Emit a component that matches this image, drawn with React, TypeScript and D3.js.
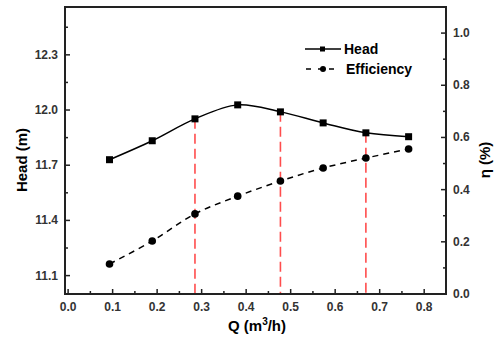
import { useEffect, useRef } from "react";
import * as d3 from "d3";

const flow = [0.093, 0.189, 0.285, 0.381, 0.477, 0.573, 0.669, 0.765];
const head = [11.73, 11.833, 11.952, 12.028, 11.99, 11.93, 11.876, 11.855];
const efficiency = [0.115, 0.203, 0.307, 0.375, 0.433, 0.483, 0.521, 0.556];
const markerFlows = [0.285, 0.477, 0.669];
const xTicks = [0, 0.1, 0.2, 0.3, 0.4, 0.5, 0.6, 0.7, 0.8];
const headTicks = [11.1, 11.4, 11.7, 12.0, 12.3];
const effTicks = [0, 0.2, 0.4, 0.6, 0.8, 1.0];

const FONT = "'Liberation Sans', Arial, sans-serif";

const App = () => {
  const ref = useRef<SVGSVGElement | null>(null);

  useEffect(() => {
    const el = ref.current;
    if (!el) return;
    d3.select(el).selectAll("*").remove();
    const svg = d3.select(el);

    const left = 65, right = 446, top = 7, bottom = 294;

    const x = d3.scaleLinear().domain([-0.007, 0.849]).range([left, right]);
    const yH = d3.scaleLinear().domain([11.0, 12.56]).range([bottom, top]);
    const yE = d3.scaleLinear().domain([0, 1.1]).range([bottom, top]);

    // ── Red guide lines ──────────────────────────────────────────
    markerFlows.forEach(q => {
      const i = flow.indexOf(q);
      svg.append("line")
        .attr("x1", x(q)).attr("x2", x(q))
        .attr("y1", yH(head[i])).attr("y2", bottom)
        .attr("stroke", "#ff4d4d")
        .attr("stroke-width", 1.6)
        .attr("stroke-dasharray", "10,5");
    });

    // ── Curves ───────────────────────────────────────────────────
    const pts = flow.map((q, i) => ({ q, h: head[i], e: efficiency[i] }));

    const headLine = d3.line<any>().x(d => x(d.q)).y(d => yH(d.h)).curve(d3.curveCatmullRom.alpha(0.5));
    svg.append("path").datum(pts)
      .attr("d", headLine)
      .attr("fill", "none").attr("stroke", "#000").attr("stroke-width", 1.5);

    const effLine = d3.line<any>().x(d => x(d.q)).y(d => yE(d.e)).curve(d3.curveCatmullRom.alpha(0.5));
    svg.append("path").datum(pts)
      .attr("d", effLine)
      .attr("fill", "none").attr("stroke", "#000").attr("stroke-width", 1.5)
      .attr("stroke-dasharray", "6,5");

    svg.selectAll(".sq").data(pts).enter().append("rect")
      .attr("x", d => x(d.q) - 3.5).attr("y", d => yH(d.h) - 3.5)
      .attr("width", 7).attr("height", 7).attr("fill", "#000");

    svg.selectAll(".dot").data(pts).enter().append("circle")
      .attr("cx", d => x(d.q)).attr("cy", d => yE(d.e))
      .attr("r", 3.8).attr("fill", "#000");

    // ── Frame ────────────────────────────────────────────────────
    svg.append("rect")
      .attr("x", left).attr("y", top)
      .attr("width", right - left).attr("height", bottom - top)
      .attr("fill", "none").attr("stroke", "#222").attr("stroke-width", 2);

    // ── Ticks (inward) ───────────────────────────────────────────
    const tick = (x1: number, y1: number, x2: number, y2: number) =>
      svg.append("line").attr("x1", x1).attr("y1", y1).attr("x2", x2).attr("y2", y2)
        .attr("stroke", "#222").attr("stroke-width", 1.5);

    const label = (tx: number, ty: number, anchor: string, s: string) =>
      svg.append("text")
        .attr("x", tx).attr("y", ty)
        .attr("text-anchor", anchor)
        .style("font-family", FONT).style("font-size", "12px").style("font-weight", "700")
        .style("fill", "#333")
        .text(s);

    xTicks.forEach(v => {
      tick(x(v), bottom, x(v), bottom - 5);
      if (v < 0.8) tick(x(v + 0.05), bottom, x(v + 0.05), bottom - 3);
      label(x(v), bottom + 17, "middle", v.toFixed(1));
    });

    headTicks.forEach(v => {
      tick(left, yH(v), left + 5, yH(v));
      tick(left, yH(v + 0.15), left + 3, yH(v + 0.15));
      label(left - 7, yH(v) + 4, "end", v.toFixed(1));
    });

    effTicks.forEach(v => {
      tick(right, yE(v), right - 5, yE(v));
      if (v < 1.0) tick(right, yE(v + 0.1), right - 3, yE(v + 0.1));
      label(right + 7, yE(v) + 4, "start", v.toFixed(1));
    });

    // ── Axis titles ──────────────────────────────────────────────
    svg.append("text")
      .attr("transform", "translate(27,160) rotate(-90)")
      .attr("text-anchor", "middle")
      .style("font-family", FONT).style("font-size", "15px").style("font-weight", "700")
      .text("Head (m)");

    svg.append("text")
      .attr("transform", "translate(490,160) rotate(-90)")
      .attr("text-anchor", "middle")
      .style("font-family", FONT).style("font-size", "15px").style("font-weight", "700")
      .text("η (%)");

    const xt = svg.append("text")
      .attr("x", 257).attr("y", 331)
      .attr("text-anchor", "middle")
      .style("font-family", FONT).style("font-size", "15px").style("font-weight", "700");
    xt.append("tspan").text("Q (m");
    xt.append("tspan").attr("dy", -6).style("font-size", "10px").text("3");
    xt.append("tspan").attr("dy", 6).text("/h)");

    // ── Legend ───────────────────────────────────────────────────
    svg.append("line").attr("x1", 305).attr("x2", 341).attr("y1", 49).attr("y2", 49)
      .attr("stroke", "#000").attr("stroke-width", 1.5);
    svg.append("rect").attr("x", 320).attr("y", 46.5).attr("width", 5).attr("height", 5).attr("fill", "#000");
    svg.append("text").attr("x", 344).attr("y", 54)
      .style("font-family", FONT).style("font-size", "14px").style("font-weight", "700")
      .text("Head");

    svg.append("line").attr("x1", 306).attr("x2", 341).attr("y1", 69).attr("y2", 69)
      .attr("stroke", "#000").attr("stroke-width", 1.5).attr("stroke-dasharray", "5,7,5,6");
    svg.append("circle").attr("cx", 323).attr("cy", 69).attr("r", 3).attr("fill", "#000");
    svg.append("text").attr("x", 346).attr("y", 74)
      .style("font-family", FONT).style("font-size", "14px").style("font-weight", "700")
      .text("Efficiency");

    return () => { d3.select(el).selectAll("*").remove(); };
  }, []);

  return (
    <svg ref={ref} width={494} height={340}
      style={{ position: "absolute", left: 0, top: 0, background: "#fff", display: "block" }} />
  );
};

export default App;
